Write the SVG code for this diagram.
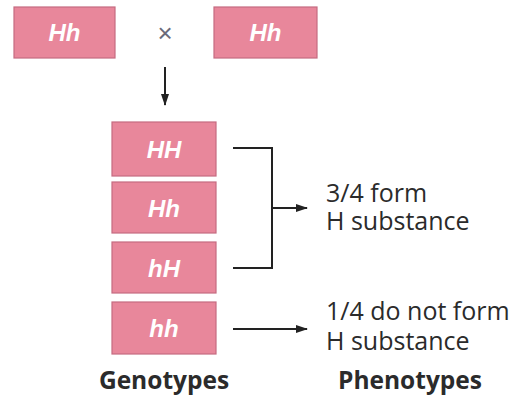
<svg xmlns="http://www.w3.org/2000/svg" width="523" height="396" viewBox="0 0 523 396">
  <style>
    .box { fill: #e8879b; stroke: #c56b80; stroke-width: 1.2; }
    .gt { font-family: "Liberation Sans", Arial, sans-serif; font-weight: bold; font-style: italic; font-size: 24px; fill: #ffffff; text-anchor: middle; }
    .lbl { font-family: "Open Sans", "Liberation Sans", sans-serif; font-size: 25px; fill: #2b2b2b; }
    .hdr { font-family: "Open Sans", "Liberation Sans", sans-serif; font-weight: bold; font-size: 24.5px; fill: #2b2b2b; text-anchor: middle; }
    .ln { fill: none; stroke: #222222; stroke-width: 2; }
  </style>
  <defs>
    <marker id="arr" markerWidth="12" markerHeight="8" refX="11" refY="4" orient="auto" markerUnits="userSpaceOnUse">
      <path d="M0,0 L12,4 L0,8 Z" fill="#222222"/>
    </marker>
  </defs>

  <rect width="523" height="396" fill="#ffffff"/>

  <!-- parents -->
  <g id="parent1">
    <rect class="box" x="14" y="7" width="101" height="51"/>
    <text class="gt" x="64.5" y="41">Hh</text>
  </g>
  <g id="cross">
    <text x="165" y="42" font-family="Liberation Sans, sans-serif" font-size="26" fill="#6a6a7a" text-anchor="middle">×</text>
  </g>
  <g id="parent2">
    <rect class="box" x="214" y="7" width="103" height="51"/>
    <text class="gt" x="265.5" y="41">Hh</text>
  </g>

  <!-- offspring genotypes -->
  <g id="geno-HH">
    <rect class="box" x="112" y="122" width="104" height="54"/>
    <text class="gt" x="164" y="158">HH</text>
  </g>
  <g id="geno-Hh">
    <rect class="box" x="112" y="182" width="104" height="51"/>
    <text class="gt" x="164" y="217">Hh</text>
  </g>
  <g id="geno-hH">
    <rect class="box" x="112" y="242" width="104" height="51"/>
    <text class="gt" x="164" y="277">hH</text>
  </g>
  <g id="geno-hh">
    <rect class="box" x="112" y="302" width="104" height="52"/>
    <text class="gt" x="164" y="337">hh</text>
  </g>

  <!-- connectors -->
  <g id="connectors">
    <line class="ln" x1="165" y1="67" x2="165" y2="105" marker-end="url(#arr)"/>
    <polyline class="ln" points="233,148 272,148 272,268 233,268"/>
    <line class="ln" x1="272" y1="208" x2="307" y2="208" marker-end="url(#arr)"/>
    <line class="ln" x1="233" y1="329" x2="307" y2="329" marker-end="url(#arr)"/>
  </g>

  <!-- phenotype labels -->
  <g id="pheno-form">
    <text class="lbl" x="326" y="202">3/4 form</text>
    <text class="lbl" x="326" y="230">H substance</text>
  </g>
  <g id="pheno-noform">
    <text class="lbl" x="326" y="320">1/4 do not form</text>
    <text class="lbl" x="326" y="350">H substance</text>
  </g>

  <!-- column headings -->
  <text class="hdr" x="164" y="389">Genotypes</text>
  <text class="hdr" x="410" y="389">Phenotypes</text>
</svg>
